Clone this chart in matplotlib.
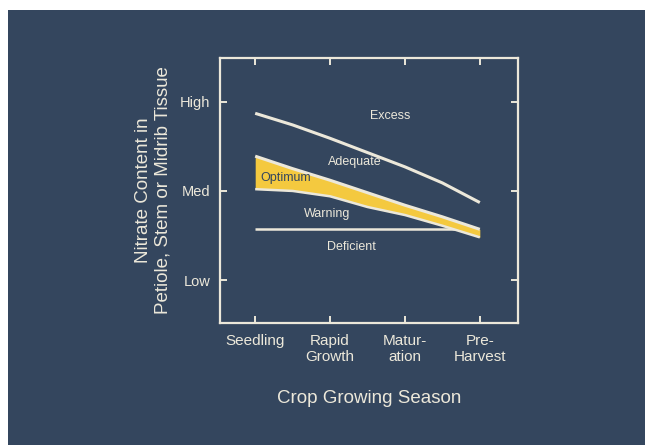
import matplotlib
matplotlib.use("Agg")
import matplotlib.pyplot as plt
from matplotlib.patches import Rectangle

# ---- data ----
stages = ["Seedling", "Rapid\nGrowth", "Matur-\nation", "Pre-\nHarvest"]
stage_x = [0, 1, 2, 3]
level_labels = ["Low", "Med", "High"]
level_y = [1, 2, 3]

# curves at half-stage steps
sample_x = [0, 0.5, 1, 1.5, 2, 2.5, 3]
excess_line = [2.87, 2.74, 2.59, 2.43, 2.27, 2.09, 1.87]
optimum_top = [2.39, 2.25, 2.12, 1.98, 1.84, 1.71, 1.57]
optimum_bottom = [2.02, 2.00, 1.94, 1.82, 1.73, 1.61, 1.48]
deficient_x = [0, 2.67]
deficient_line = [1.575, 1.575]

zone_names = ["Excess", "Adequate", "Optimum", "Warning", "Deficient"]
zone_x = [1.8, 1.33, 0.07, 0.96, 1.29]
zone_y = [2.84, 2.33, 2.15, 1.74, 1.37]

BG = "#34465e"
FG = "#ece8da"
YEL = "#f4c93f"

plt.rcParams['font.family'] = ['Liberation Sans', 'DejaVu Sans']

fig = plt.figure(figsize=(6.48, 4.45), dpi=100)
fig.patch.set_facecolor("white")
fig.add_artist(Rectangle((8/648, 0), (645-8)/648, (445-10)/445,
                         transform=fig.transFigure, facecolor=BG,
                         edgecolor="none", zorder=-10))

ax = fig.add_axes([220/648, 1-323/445, (518-220)/648, (323-58)/445])
ax.set_facecolor(BG)
ax.set_xlim(-0.47, 3.51)
ax.set_ylim(0.52, 3.49)

for s in ax.spines.values():
    s.set_color(FG)
    s.set_linewidth(1.6)

ax.fill_between(sample_x, optimum_bottom, optimum_top, color=YEL, lw=0, zorder=2)
ax.plot(sample_x, optimum_top, color=FG, lw=2.2, zorder=3, solid_capstyle='butt')
ax.plot(sample_x, optimum_bottom, color=FG, lw=1.8, zorder=3, solid_capstyle='butt')
ax.plot(sample_x, excess_line, color=FG, lw=2.2, zorder=3, solid_capstyle='butt')
ax.plot(deficient_x, deficient_line, color=FG, lw=1.8, zorder=1, solid_capstyle='butt')

for name, x, y in zip(zone_names, zone_x, zone_y):
    if name == "Optimum":
        ax.text(x, y, name, color=BG, fontsize=9, ha="left", va="center", zorder=4)
    else:
        ax.text(x, y, name, color=FG, fontsize=9, ha="center", va="center", zorder=4)

ax.set_xticks(stage_x)
ax.set_xticklabels(stages, color=FG, fontsize=11, linespacing=1.15)
ax.set_yticks(level_y)
ax.set_yticklabels(level_labels, color=FG, fontsize=10.5)
ax.tick_params(direction="in", length=5, width=1.4, color=FG,
               top=True, right=True, pad=8)
ax.tick_params(axis="y", pad=7)

ax.set_xlabel("Crop Growing Season", color=FG, fontsize=13.5, labelpad=19)
ax.set_ylabel("Nitrate Content in\nPetiole, Stem or Midrib Tissue",
              color=FG, fontsize=13.5, labelpad=6, linespacing=1.2)

fig.savefig("out.png", dpi=100, facecolor=fig.get_facecolor())
